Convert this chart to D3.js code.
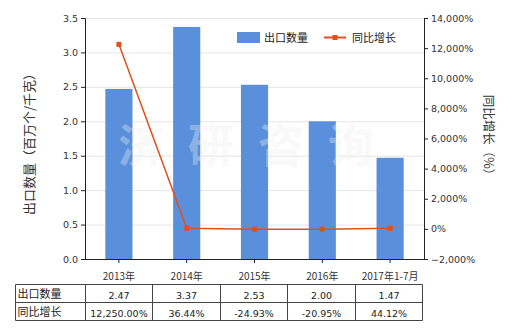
<!DOCTYPE html>
<html><head><meta charset="utf-8">
<script src="https://cdn.jsdelivr.net/npm/d3@7"></script>
<style>body{margin:0;background:#fff}svg{display:block}text{font-family:"DejaVu Sans",sans-serif}</style>
</head><body><svg id="c" width="520" height="330"></svg>
<script>
const categories = ["2013年","2014年","2015年","2016年","2017年1-7月"];
const exportQty = [2.47, 3.37, 2.53, 2.00, 1.47];
const yoyGrowth = [12250.00, 36.44, -24.93, -20.95, 44.12];
const qtyLabels = ["2.47","3.37","2.53","2.00","1.47"];
const yoyLabels = ["12,250.00%","36.44%","-24.93%","-20.95%","44.12%"];
const leftTicks = [0,0.5,1,1.5,2,2.5,3,3.5];
const rightTicks = [-2000,0,2000,4000,6000,8000,10000,12000,14000];

const svg = d3.select("#c");
const L = 85, R = 424, T = 18, B = 259;
const x = d3.scaleBand().domain(categories).range([L, R]).paddingInner(0.6).paddingOuter(0.3);
const y = d3.scaleLinear().domain([0,3.5]).range([B,T]);
const y2 = d3.scaleLinear().domain([-2000,14000]).range([B,T]);
const fs = "9.5px";

// grid
svg.append("g").selectAll("line").data(leftTicks.slice(1)).join("line")
  .attr("x1",L).attr("x2",R).attr("y1",d=>y(d)+0.5).attr("y2",d=>y(d)+0.5)
  .attr("stroke","#e6e6e6");

// bars
svg.append("g").selectAll("rect").data(exportQty).join("rect")
  .attr("x",(d,i)=>x(categories[i])).attr("width",x.bandwidth())
  .attr("y",d=>y(d)).attr("height",d=>B-y(d)).attr("fill","#5a8fdb");

// watermark
svg.append("text").attr("x",258).attr("y",162).attr("text-anchor","middle")
  .attr("font-size","46px").attr("fill","#eef0f2").attr("opacity",0.35)
  .attr("letter-spacing","24px").style("font-family","'Noto Sans CJK SC'").style("font-weight","bold")
  .text("济研咨询");

// axes
const ga = svg.append("g").attr("transform",`translate(${L},0)`)
  .call(d3.axisLeft(y).tickValues(leftTicks).tickFormat(d3.format(".1f")).tickSizeOuter(0).tickSize(4));
const gb = svg.append("g").attr("transform",`translate(${R},0)`)
  .call(d3.axisRight(y2).tickValues(rightTicks).tickFormat(d=>d3.format(",")(d)+"%").tickSizeOuter(0).tickSize(4));
const gx = svg.append("g").attr("transform",`translate(0,${B})`)
  .call(d3.axisBottom(x).tickSizeOuter(0).tickSize(4));
gx.select(".domain").attr("d",`M${L},0.5H${R}`);
[ga,gb,gx].forEach(g=>{
  g.selectAll("text").attr("font-size",fs).attr("fill","#333").style("font-family","'DejaVu Sans'");
  g.selectAll("path,line").attr("stroke","#222");
});
gx.selectAll("text").attr("dy","1.4em").style("font-family","'Noto Sans CJK SC'").attr("font-size","10px");

// line
const pts = yoyGrowth.map((d,i)=>[x(categories[i])+x.bandwidth()/2, y2(d)]);
svg.append("path").attr("d",d3.line()(pts)).attr("fill","none").attr("stroke","#e0501c").attr("stroke-width",1.5);
svg.append("g").selectAll("rect").data(pts).join("rect")
  .attr("x",d=>d[0]-2.5).attr("y",d=>d[1]-2.5).attr("width",5).attr("height",5).attr("fill","#e0501c");

// axis titles
svg.append("text").attr("transform","translate(34,141) rotate(-90)").attr("text-anchor","middle")
  .attr("font-size","13px").attr("fill","#333").style("font-family","'Noto Sans CJK SC'").text("出口数量（百万个/千克）");
svg.append("text").attr("transform","translate(484,138) rotate(90)").attr("text-anchor","middle")
  .attr("font-size","12.5px").attr("fill","#333").style("font-family","'Noto Sans CJK SC'").text("同比增长（%）");

// legend
svg.append("rect").attr("x",237).attr("y",32).attr("width",23).attr("height",11).attr("fill","#5a8fdb");
svg.append("text").attr("x",264).attr("y",42).attr("font-size","11px").style("font-family","'Noto Sans CJK SC'").attr("fill","#222").text("出口数量");
svg.append("line").attr("x1",324).attr("x2",346).attr("y1",37.5).attr("y2",37.5).attr("stroke","#e0501c").attr("stroke-width",2);
svg.append("rect").attr("x",332.5).attr("y",35).attr("width",5).attr("height",5).attr("fill","#e0501c");
svg.append("text").attr("x",352).attr("y",42).attr("font-size","11px").style("font-family","'Noto Sans CJK SC'").attr("fill","#222").text("同比增长");

// table
const colX = [15.5,85.5,152.5,220.5,287.5,355.5,422.5];
const rowY = [284.5,302.5,320.5];
const tg = svg.append("g");
rowY.forEach(yy=>tg.append("line").attr("x1",colX[0]).attr("x2",colX[6]).attr("y1",yy).attr("y2",yy).attr("stroke","#444"));
colX.forEach(xx=>tg.append("line").attr("x1",xx).attr("x2",xx).attr("y1",rowY[0]).attr("y2",rowY[2]).attr("stroke","#444"));
const rows = [["出口数量",qtyLabels],["同比增长",yoyLabels]];
rows.forEach((r,ri)=>{
  tg.append("text").attr("x",colX[0]+2).attr("y",rowY[ri]+13).attr("font-size","11px")
    .style("font-family","'Noto Sans CJK SC'").attr("fill","#222").text(r[0]);
  r[1].forEach((v,ci)=>{
    tg.append("text").attr("x",(colX[ci+1]+colX[ci+2])/2).attr("y",rowY[ri]+14).attr("text-anchor","middle")
      .attr("font-size",fs).attr("fill","#222").text(v);
  });
});
</script></body></html>
